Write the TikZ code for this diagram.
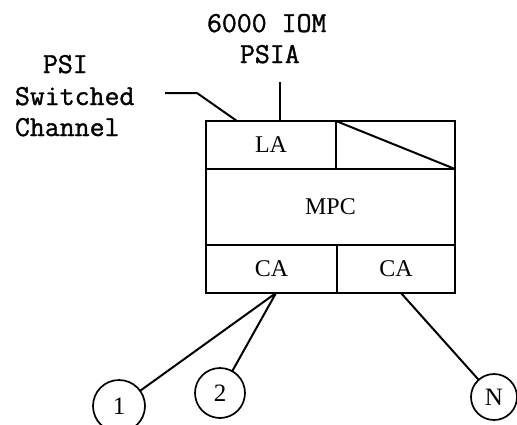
\documentclass[tikz,border=0pt]{standalone}
\usepackage{fontspec}
\setmonofont{Latin Modern Mono}[FakeBold=1.2]
\newfontfamily\boxfont{Liberation Serif}
\usetikzlibrary{positioning}
\begin{document}
\begin{tikzpicture}[
  x=1pt,y=-1pt,
  every node/.style={inner sep=0pt,outer sep=0pt},
  cell/.style={rectangle,draw,line width=1.8pt,font=\boxfont\fontsize{24}{28}\selectfont},
  port/.style={circle,draw,line width=1.7pt,minimum size=50pt,font=\boxfont\fontsize{25}{28}\selectfont},
  tag/.style={anchor=base west,font=\ttfamily\fontsize{29}{31}\selectfont},
  wire/.style={line width=2pt}
]
\useasboundingbox (0,0) rectangle (517,424);
% labels
\node[tag] (iom) at (207,32) {6000 IOM};
\node[tag] (psia) at (240,63) {PSIA};
\node[tag] (psi) at (43,73) {PSI};
\node[tag] (sw) at (15,105) {Switched};
\node[tag] (ch) at (15,136) {Channel};
% the box
\node[cell,minimum width=130pt,minimum height=48pt] (la) at (271,145) {LA};
\node[cell,minimum width=119pt,minimum height=48pt] (blank) at (395.5,145) {};
\node[cell,minimum width=249pt,minimum height=76pt] (mpc) at (330.5,207) {MPC};
\node[cell,minimum width=131pt,minimum height=48pt] (ca1) at (271.5,269) {CA};
\node[cell,minimum width=118pt,minimum height=48pt] (ca2) at (396,269) {CA};
\draw[wire] (blank.north west) -- (blank.south east);
% lines in
\coordinate (feed) at (280,82);
\draw[wire] (feed) -- (feed |- la.north);
\coordinate (lead) at (165,93);
\draw[wire] (lead) -- (197,93) -- ([xshift=31pt]la.north west);
% devices
\node[port,minimum size=52pt] (n1) at (119,406) {1};
\node[port] (n2) at (220,393) {2};
\node[port,minimum size=46pt] (nN) at (494,397) {N};
\coordinate (tap) at (276,293);
\coordinate (tapN) at (401,293);
\draw[wire] (tap) -- (n1);
\draw[wire] (tap) -- (n2);
\draw[wire] (tapN) -- (nN);
\end{tikzpicture}
\end{document}
